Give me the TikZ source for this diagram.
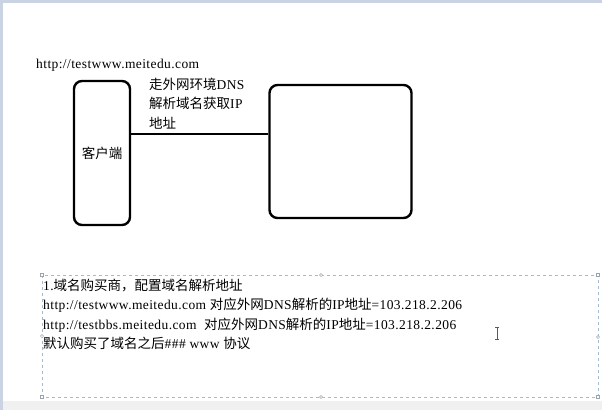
\documentclass[tikz,border=0pt]{standalone}
\usepackage{fontspec}
\usepackage{xcolor}
\usepackage{tikz}
\setmainfont[LetterSpace=3]{Liberation Serif}
\newfontfamily\cjk{Noto Sans CJK SC}
\definecolor{frameblue}{HTML}{C9D3E2}
\definecolor{dashblue}{HTML}{A9B9CC}
\definecolor{handlegray}{HTML}{9AA4AE}
\definecolor{pagegray}{HTML}{F0F0F0}
\definecolor{cursorgray}{HTML}{5A5A5A}

\tikzset{
  roundbox/.style={draw=black, line width=2.4pt, rounded corners=8pt, inner sep=0pt},
  label/.style={anchor=west, inner sep=0pt, font=\fontsize{13.5}{15}\selectfont},
  handle/.style={draw=handlegray, fill=white, line width=0.5pt}
}

\begin{document}
\begin{tikzpicture}[x=1pt, y=-1pt]
  \useasboundingbox (0,0) rectangle (602,410);
  % page background
  \fill[white] (0,0) rectangle (602,410);
  \fill[pagegray] (0,401) rectangle (602,410);
  \fill[frameblue] (0,0) rectangle (602,3);
  \fill[frameblue] (0,0) rectangle (3,410);

  % url above the client
  \node[label] (url) at (36,65) {http://testwww.meitedu.com};

  % client and server boxes
  \node[roundbox, minimum width=56pt, minimum height=144pt] (client) at (102,153) {};
  \node[font=\fontsize{13.5}{15}\selectfont\cjk] (clientname) at (client) {客户端};
  \node[roundbox, minimum width=142pt, minimum height=133pt] (server) at (340.5,151.5) {};

  \coordinate (linky) at (0,134);
  \draw[line width=2pt] (client.east |- linky) -- (server.west |- linky);

  \node[label] (dns1) at (149,84) {{\cjk 走外网环境}DNS};
  \node[label] (dns2) at (149,103.5) {{\cjk 解析域名获取}IP};
  \node[label] (dns3) at (149,123) {{\cjk 地址}};

  % text box with handles
  \draw[dashblue, dashed, line width=0.6pt] (42,275) rectangle (598,397);
  \foreach \hx/\hy in {321/275, 321/397, 42/336, 598/337}
    \draw[handle] (\hx,\hy) circle (1.6);
  \foreach \hx/\hy in {42/275, 598/275, 42/397, 598/397}
    \draw[handle] (\hx-1.6,\hy-1.6) rectangle (\hx+1.6,\hy+1.6);

  \node[label] (line1) at (43,286) {1.{\cjk 域名购买商，配置域名解析地址}};
  \node[label] (line2) at (43,305.5) {http://testwww.meitedu.com {\cjk 对应外网}DNS{\cjk 解析的}IP{\cjk 地址}=103.218.2.206};
  \node[label] (line3) at (43,325) {http://testbbs.meitedu.com \ {\cjk 对应外网}DNS{\cjk 解析的}IP{\cjk 地址}=103.218.2.206};
  \node[label] (line4) at (43,343.5) {{\cjk 默认购买了域名之后}\#\#\# www {\cjk 协议}};

  % text cursor
  \draw[cursorgray, line width=0.8pt] (497,327) -- (497,339);
  \draw[cursorgray, line width=0.8pt] (495,327) -- (499,327);
  \draw[cursorgray, line width=0.8pt] (495,339) -- (499,339);
\end{tikzpicture}
\end{document}
